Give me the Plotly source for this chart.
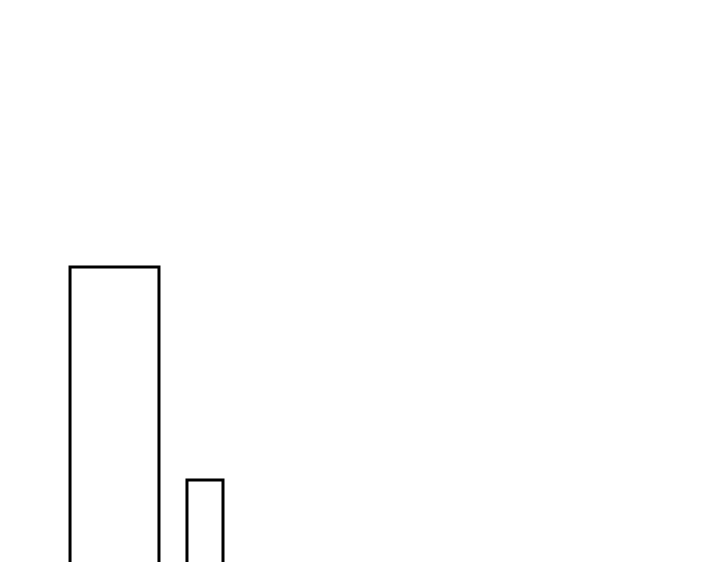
import plotly.graph_objects as go

categories = [1, 2]
values = [100, 40]
bar_widths = [0.983, 0.398]

fig = go.Figure(
    go.Bar(
        x=categories,
        y=values,
        width=bar_widths,
        marker=dict(color="rgba(255,255,255,0)", line=dict(color="black", width=3)),
    )
)
fig.update_layout(
    width=720,
    height=562,
    margin=dict(l=0, r=0, t=0, b=0),
    paper_bgcolor="white",
    plot_bgcolor="white",
    showlegend=False,
    xaxis=dict(range=[-0.177, 7.78], visible=False, showgrid=False, zeroline=False),
    yaxis=dict(range=[14.65, 172.96], visible=False, showgrid=False, zeroline=False),
)
fig.write_html("out.html")
